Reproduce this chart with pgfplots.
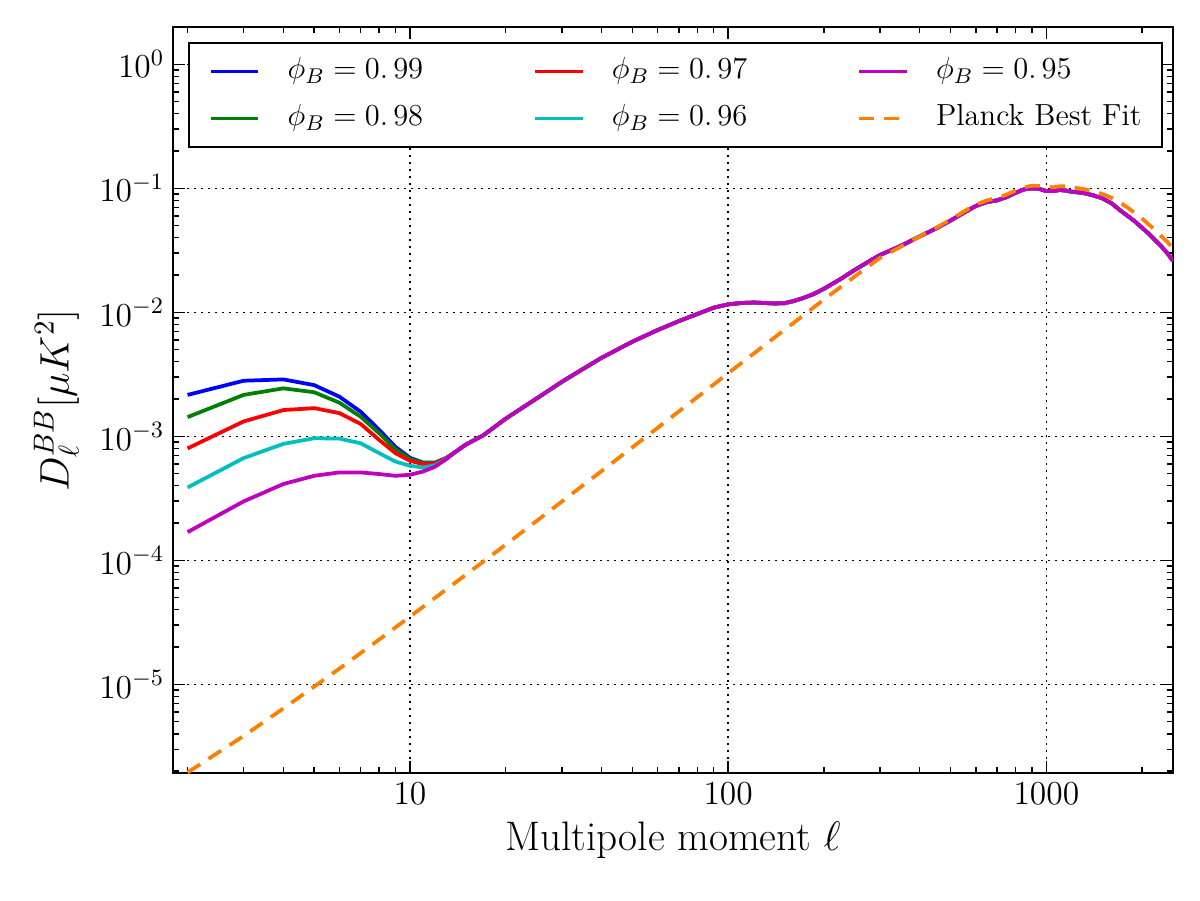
\RequirePackage{fix-cm}
\documentclass[border=0pt]{standalone}
\usepackage{fontspec}
\usepackage{pgfplots}
\usepackage{pgfplotstable}
\pgfplotsset{compat=1.18}

\definecolor{mplblue}{rgb}{0,0,1}
\definecolor{mplgreen}{rgb}{0,0.5,0}
\definecolor{mplred}{rgb}{1,0,0}
\definecolor{mplcyan}{rgb}{0,0.75,0.75}
\definecolor{mplmagenta}{rgb}{0.75,0,0.75}
\definecolor{planckorange}{rgb}{1,0.5,0}

% BB spectra for the five phi_B models (columns a..e = 0.99, 0.98, 0.97, 0.96, 0.95)
\pgfplotstableread{
l     a        b        c        d        e
2     2.16e-3  1.43e-3  8.00e-4  3.87e-4  1.69e-4
3     2.81e-3  2.16e-3  1.32e-3  6.68e-4  2.99e-4
4     2.88e-3  2.44e-3  1.63e-3  8.70e-4  4.13e-4
5     2.59e-3  2.27e-3  1.69e-3  9.66e-4  4.81e-4
6     2.09e-3  1.87e-3  1.54e-3  9.60e-4  5.12e-4
7     1.58e-3  1.44e-3  1.26e-3  8.80e-4  5.12e-4
8     1.13e-3  1.06e-3  9.37e-4  7.33e-4  4.97e-4
9     8.23e-4  7.88e-4  7.33e-4  6.27e-4  4.81e-4
10    6.72e-4  6.56e-4  6.35e-4  5.79e-4  4.90e-4
11    6.15e-4  6.10e-4  5.97e-4  5.61e-4  5.21e-4
12    6.15e-4  6.10e-4  6.05e-4  5.85e-4  5.70e-4
13    6.70e-4  6.70e-4  6.68e-4  6.62e-4  6.55e-4
14    7.60e-4  7.60e-4  7.60e-4  7.60e-4  7.60e-4
15    8.60e-4  8.60e-4  8.60e-4  8.60e-4  8.60e-4
17    1.02e-3  1.02e-3  1.02e-3  1.02e-3  1.02e-3
20    1.39e-3  1.39e-3  1.39e-3  1.39e-3  1.39e-3
25    2.02e-3  2.02e-3  2.02e-3  2.02e-3  2.02e-3
30    2.75e-3  2.75e-3  2.75e-3  2.75e-3  2.75e-3
35    3.50e-3  3.50e-3  3.50e-3  3.50e-3  3.50e-3
40    4.30e-3  4.30e-3  4.30e-3  4.30e-3  4.30e-3
50    5.80e-3  5.80e-3  5.80e-3  5.80e-3  5.80e-3
60    7.20e-3  7.20e-3  7.20e-3  7.20e-3  7.20e-3
70    8.50e-3  8.50e-3  8.50e-3  8.50e-3  8.50e-3
80    9.70e-3  9.70e-3  9.70e-3  9.70e-3  9.70e-3
90    1.09e-2  1.09e-2  1.09e-2  1.09e-2  1.09e-2
100   1.16e-2  1.16e-2  1.16e-2  1.16e-2  1.16e-2
110   1.19e-2  1.19e-2  1.19e-2  1.19e-2  1.19e-2
120   1.20e-2  1.20e-2  1.20e-2  1.20e-2  1.20e-2
130   1.19e-2  1.19e-2  1.19e-2  1.19e-2  1.19e-2
140   1.18e-2  1.18e-2  1.18e-2  1.18e-2  1.18e-2
150   1.185e-2 1.185e-2 1.185e-2 1.185e-2 1.185e-2
160   1.23e-2  1.23e-2  1.23e-2  1.23e-2  1.23e-2
170   1.29e-2  1.29e-2  1.29e-2  1.29e-2  1.29e-2
185   1.40e-2  1.40e-2  1.40e-2  1.40e-2  1.40e-2
200   1.55e-2  1.55e-2  1.55e-2  1.55e-2  1.55e-2
225   1.85e-2  1.85e-2  1.85e-2  1.85e-2  1.85e-2
250   2.20e-2  2.20e-2  2.20e-2  2.20e-2  2.20e-2
275   2.55e-2  2.55e-2  2.55e-2  2.55e-2  2.55e-2
300   2.90e-2  2.90e-2  2.90e-2  2.90e-2  2.90e-2
350   3.45e-2  3.45e-2  3.45e-2  3.45e-2  3.45e-2
400   4.10e-2  4.10e-2  4.10e-2  4.10e-2  4.10e-2
450   4.75e-2  4.75e-2  4.75e-2  4.75e-2  4.75e-2
500   5.50e-2  5.50e-2  5.50e-2  5.50e-2  5.50e-2
550   6.35e-2  6.35e-2  6.35e-2  6.35e-2  6.35e-2
600   7.20e-2  7.20e-2  7.20e-2  7.20e-2  7.20e-2
650   7.75e-2  7.75e-2  7.75e-2  7.75e-2  7.75e-2
700   8.00e-2  8.00e-2  8.00e-2  8.00e-2  8.00e-2
750   8.50e-2  8.50e-2  8.50e-2  8.50e-2  8.50e-2
800   9.20e-2  9.20e-2  9.20e-2  9.20e-2  9.20e-2
850   9.80e-2  9.80e-2  9.80e-2  9.80e-2  9.80e-2
900   1.00e-1  1.00e-1  1.00e-1  1.00e-1  1.00e-1
950   9.90e-2  9.90e-2  9.90e-2  9.90e-2  9.90e-2
1000  9.50e-2  9.50e-2  9.50e-2  9.50e-2  9.50e-2
1050  9.50e-2  9.50e-2  9.50e-2  9.50e-2  9.50e-2
1100  9.70e-2  9.70e-2  9.70e-2  9.70e-2  9.70e-2
1150  9.60e-2  9.60e-2  9.60e-2  9.60e-2  9.60e-2
1200  9.40e-2  9.40e-2  9.40e-2  9.40e-2  9.40e-2
1300  9.20e-2  9.20e-2  9.20e-2  9.20e-2  9.20e-2
1400  8.80e-2  8.80e-2  8.80e-2  8.80e-2  8.80e-2
1500  8.30e-2  8.30e-2  8.30e-2  8.30e-2  8.30e-2
1600  7.60e-2  7.60e-2  7.60e-2  7.60e-2  7.60e-2
1700  6.70e-2  6.70e-2  6.70e-2  6.70e-2  6.70e-2
1800  6.00e-2  6.00e-2  6.00e-2  6.00e-2  6.00e-2
1900  5.40e-2  5.40e-2  5.40e-2  5.40e-2  5.40e-2
2000  4.80e-2  4.80e-2  4.80e-2  4.80e-2  4.80e-2
2100  4.30e-2  4.30e-2  4.30e-2  4.30e-2  4.30e-2
2200  3.80e-2  3.80e-2  3.80e-2  3.80e-2  3.80e-2
2300  3.40e-2  3.40e-2  3.40e-2  3.40e-2  3.40e-2
2400  3.00e-2  3.00e-2  3.00e-2  3.00e-2  3.00e-2
2500  2.60e-2  2.60e-2  2.60e-2  2.60e-2  2.60e-2
}\phitab

% Lensing-only BB spectrum of the Planck best fit
\pgfplotstableread{
l     D
2     1.95e-6
3     3.84e-6
4     6.40e-6
5     9.60e-6
6     1.34e-5
8     2.30e-5
10    3.52e-5
15    7.68e-5
20    1.34e-4
30    2.98e-4
40    5.25e-4
50    8.16e-4
70    1.59e-3
100   3.23e-3
150   7.20e-3
200   1.27e-2
250   1.95e-2
300   2.75e-2
350   3.40e-2
400   4.10e-2
450   4.80e-2
500   5.60e-2
550   6.50e-2
600   7.40e-2
650   8.00e-2
700   8.40e-2
750   8.90e-2
800   9.60e-2
850   1.02e-1
900   1.05e-1
950   1.05e-1
1000  1.03e-1
1050  1.02e-1
1100  1.04e-1
1150  1.04e-1
1200  1.02e-1
1300  9.90e-2
1400  9.50e-2
1500  9.00e-2
1600  8.40e-2
1700  7.70e-2
1800  7.00e-2
1900  6.30e-2
2000  5.70e-2
2100  5.10e-2
2200  4.60e-2
2300  4.10e-2
2400  3.70e-2
2500  3.30e-2
}\plancktab

\begin{document}
\begin{tikzpicture}
\path[use as bounding box] (-69.2pt,-50.8pt) rectangle (410.8pt,309.2pt);
\begin{axis}[
  at={(0pt,0pt)}, anchor=south west,
  scale only axis, width=400pt, height=298.4pt,
  xmode=log, ymode=log,
  xmin=1.8, xmax=2500, ymin=1.93e-6, ymax=2,
  xtick={10,100,1000}, xticklabels={10,100,1000},
  minor xtick={2,3,4,5,6,7,8,9,20,30,40,50,60,70,80,90,200,300,400,500,600,700,800,900,2000},
  ytick={1e-5,1e-4,1e-3,1e-2,1e-1,1},
  minor ytick={2e-6,3e-6,4e-6,5e-6,6e-6,7e-6,8e-6,9e-6,
    2e-5,3e-5,4e-5,5e-5,6e-5,7e-5,8e-5,9e-5,
    2e-4,3e-4,4e-4,5e-4,6e-4,7e-4,8e-4,9e-4,
    2e-3,3e-3,4e-3,5e-3,6e-3,7e-3,8e-3,9e-3,
    2e-2,3e-2,4e-2,5e-2,6e-2,7e-2,8e-2,9e-2,
    2e-1,3e-1,4e-1,5e-1,6e-1,7e-1,8e-1,9e-1},
  tick align=inside,
  major tick length=4.8pt, minor tick length=2.4pt,
  tick style={black, line width=0.6pt},
  axis line style={line width=0.8pt},
  grid=major,
  major grid style={black, line width=0.6pt, dash pattern=on 0.8pt off 2pt},
  tick label style={font=\fontsize{13.4}{16}\selectfont},
  label style={font=\fontsize{16.5}{20}\selectfont},
  xlabel={Multipole moment $\ell$},
  ylabel={$D_\ell^{BB}[\mu K^2]$},
  ylabel style={at={(axis description cs:-0.1165,0.5)}, anchor=center},
  legend cell align=left,
  legend image code/.code={\draw[#1] (0pt,0pt) -- (19pt,0pt);},
  legend columns=3,
  legend style={
    at={(0.015,0.98)}, anchor=north west,
    draw=black, line width=0.8pt,
    font=\fontsize{12.2}{14}\selectfont,
    inner xsep=8pt, inner ysep=5.2pt,
    row sep=6.3pt,
    nodes={inner sep=0pt, text height=9pt, text depth=3.5pt},
    /tikz/every odd column/.append style={column sep=11pt},
    /tikz/every even column/.append style={column sep=44pt},
  },
]
% curves
\addplot[mplblue, line width=1.5pt, forget plot] table[x=l, y=a] {\phitab};
\addplot[mplgreen, line width=1.5pt, forget plot] table[x=l, y=b] {\phitab};
\addplot[mplred, line width=1.5pt, forget plot] table[x=l, y=c] {\phitab};
\addplot[mplcyan, line width=1.5pt, forget plot] table[x=l, y=d] {\phitab};
\addplot[mplmagenta, line width=1.5pt, forget plot] table[x=l, y=e] {\phitab};
\addplot[planckorange, line width=1.5pt, dash pattern=on 6pt off 4pt, forget plot] table[x=l, y=D] {\plancktab};
% legend, filled column by column
\addlegendimage{mplblue, line width=1.5pt}
\addlegendentry{$\phi_B=0.\,99$}
\addlegendimage{mplred, line width=1.5pt}
\addlegendentry{$\phi_B=0.\,97$}
\addlegendimage{mplmagenta, line width=1.5pt}
\addlegendentry{$\phi_B=0.\,95$}
\addlegendimage{mplgreen, line width=1.5pt}
\addlegendentry{$\phi_B=0.\,98$}
\addlegendimage{mplcyan, line width=1.5pt}
\addlegendentry{$\phi_B=0.\,96$}
\addlegendimage{planckorange, line width=1.5pt, dash pattern=on 6pt off 4pt}
\addlegendentry{Planck Best Fit}
\end{axis}
\end{tikzpicture}
\end{document}
